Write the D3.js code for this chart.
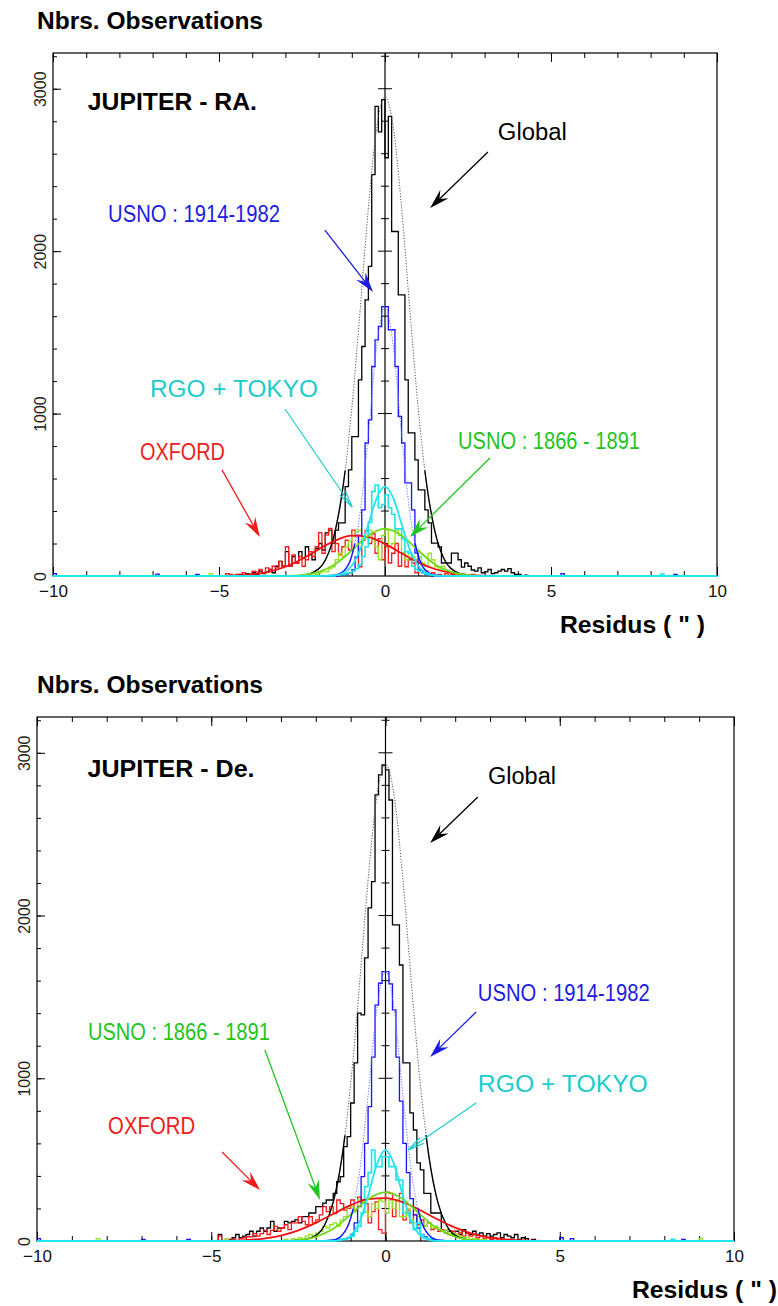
<!DOCTYPE html>
<html>
<head>
<meta charset="utf-8">
<script src="https://cdn.jsdelivr.net/npm/d3@7"></script>
<style>
  body { margin: 0; background: #fff; }
  svg { display: block; }
</style>
</head>
<body>
<script>
// histogram bins are 0.1" wide; each array starts at the residual given by its *Start
const binWidth = 0.1;
const yMax = 3220;
const xMajorTicks = [-10, -5, 0, 5, 10];
const xMinorTicks = d3.range(-10, 11, 1);
const yMajorTicks = [0, 1000, 2000, 3000];
const yMinorTicks = d3.range(0, 3201, 200);

// ---------- JUPITER - RA. ----------
const raGlobalStart = -4.5;
const raGlobal = [
  0,10,0,15,10, 20,10,30,15,25, 40,20,60,90,60, 150,60,120,80,150,
  110,180,130,100,170, 200,160,265,283,203, 283,327,327,550,653,
  858,858,1208,1413,1700, 1906,2471,2892,2734,2933,
  2575,2830,2121,2121,1731, 1731,1208,881,881,715, 530,530,407,327,203,
  203,179,80,80,80, 141,141,100,55,80, 60,37,30,50,20, 25,40,15,20,30,
  40,30,45,20,10, 10,0,5,0,0
];
const raUsnoNewStart = -1.5;   // USNO 1914-1982
const raUsnoNew = [
  0,5,8,12,20, 37,117,250,407,819, 961,1290,1454,1536,1659,
  1659,1516,1516,1290,982, 819,573,573,407,141, 37,25,10,5,0
];
const raRgoStart = -1.5;       // RGO + TOKYO
const raRgo = [
  5,8,10,15,20, 30,45,70,120,180, 330,520,560,420,440,
  500,420,380,290,290, 230,150,140,60,40, 30,20,12,8,5
];
const raUsnoOldStart = -2.5;   // USNO 1866-1891
const raUsnoOld = [
  5,0,10,15,10, 20,30,25,45,57, 100,141,120,180,216, 242,273,283,222,240,
  283,222,180,100,250, 283,180,200,283,250, 141,100,141,120,100,
  120,80,60,140,100, 57,40,60,30,20, 25,20,10,15,5
];
const raOxfordStart = -5.0;
const raOxford = [
  0,0,0,10,0, 10,0,20,10,0, 30,25,40,20,50, 40,60,50,90,60,
  180,60,130,80,120, 60,100,150,120,180, 267,140,252,293,150,
  200,130,180,220,160, 283,252,57,220,280, 200,260,140,230,100,
  180,80,140,200,60, 140,57,100,80,20, 40,20,30,10,20, 5,10,0,15,5,
  10,20,0,5,0, 0,10,0,0,0
];
const raOutliers = [
  {series: 'usnoNew', x: -10.0, n: 15}, {series: 'usnoNew', x: -6.9, n: 12},
  {series: 'usnoNew', x: -5.7, n: 10}, {series: 'usnoOld', x: -5.3, n: 15},
  {series: 'oxford', x: -4.8, n: 15}, {series: 'usnoNew', x: 5.3, n: 15},
  {series: 'rgo', x: 8.3, n: 12}, {series: 'usnoNew', x: 8.7, n: 10}
];

// ---------- JUPITER - De. ----------
const deGlobalStart = -4.5;
const deGlobal = [
  10,20,40,20,30, 40,60,30,60,80, 60,80,120,60,80, 80,120,111,120,130,
  111,150,150,172,172, 211,211,233,252,252, 293,364,395,580,641,
  848,1094,1400,1389,1740, 2047,2208,2741,2864,2925,
  2895,2710,1942,1942,1696, 1094,1094,787,682,480, 437,293,293,172,172,
  172,70,70,60,50, 60,40,70,50,40, 60,40,50,30,45, 30,40,50,20,40,
  30,20,40,10,20, 15,0,10,0,0
];
const deUsnoNewStart = -1.5;
const deUsnoNew = [
  0,5,10,15,20, 40,111,211,395,600, 826,1130,1450,1584,1655,
  1655,1580,1420,1130,860, 600,420,260,160,80, 40,25,15,8,0
];
const deRgoStart = -1.5;
const deRgo = [
  0,5,10,10,20, 30,60,90,172,334, 420,559,457,457,518,
  518,457,457,375,375, 172,172,120,70,111, 40,20,15,5,0
];
const deUsnoOldStart = -3.0;
const deUsnoOld = [
  0,10,0,15,10, 20,15,30,40,25, 50,60,90,80,100, 111,90,130,150,211,
  211,180,252,240,180, 150,230,200,252,240, 172,252,200,252,150,
  150,200,130,111,150, 111,90,111,80,90, 70,60,70,40,50, 40,30,20,25,10,
  15,10,5,10,0
];
const deOxfordStart = -4.5;
const deOxford = [
  5,10,0,15,20, 26,26,45,30,45, 65,40,65,90,60, 80,100,70,111,111,
  150,120,100,150,111, 130,160,211,180,211, 170,252,230,190,200,
  252,190,270,252,230, 111,180,240,70,49, 300,293,150,250,293,
  130,190,111,160,100, 130,90,111,70,80, 60,70,50,40,60, 40,50,30,45,30,
  40,20,30,15,20, 10,20,5,10,0, 10,0,5,0,0
];
const deOutliers = [
  {series: 'usnoNew', x: -10.0, n: 15}, {series: 'usnoOld', x: -8.3, n: 15},
  {series: 'usnoNew', x: -7.0, n: 10}, {series: 'usnoNew', x: -5.7, n: 10},
  {series: 'global', x: -4.8, n: 40}, {series: 'oxford', x: -4.8, n: 30},
  {series: 'usnoOld', x: -4.6, n: 15}, {series: 'usnoNew', x: 5.0, n: 20},
  {series: 'usnoNew', x: 5.3, n: 15}, {series: 'rgo', x: 8.2, n: 10},
  {series: 'usnoNew', x: 8.5, n: 10}, {series: 'usnoOld', x: 9.0, n: 15}
];

// ---------- fitted curves ----------
const fitXGlobal = [-10,-3,-2.5,-2,-1.75,-1.5,-1.25,-1,-0.75,-0.5,-0.25,0,0.25,0.5,0.75,1,1.25,1.5,1.75,2,2.5,3,10];
const fitXNarrow = [-10,-2,-1.5,-1.25,-1,-0.75,-0.5,-0.25,0,0.25,0.5,0.75,1,1.25,1.5,2,10];
const fitXMid = [-10,-3.5,-3,-2.5,-2,-1.5,-1,-0.5,0,0.5,1,1.5,2,2.5,3,3.5,10];
const fitXWide = [-10,-5,-4.5,-4,-3.5,-3,-2.5,-2,-1.5,-1,-0.5,0,0.5,1,1.5,2,2.5,3,3.5,4,4.5,10];

const raFitGlobal = [0,0,4,44,118,278,571,1032,1634,2269,2762,2950,2762,2269,1634,1032,571,278,118,44,4,0,0];
const raFitUsnoNew = [0,0,5,29,125,388,870,1413,1660,1413,870,388,125,29,5,0,0];
const raFitRgo = [0,0,4,19,63,162,320,480,550,480,320,162,63,19,4,0,0];
const raFitUsnoOld = [0,0,1,6,25,73,157,250,292,250,157,73,25,6,1,0,0];
const raFitOxford = [0,1,4,10,26,57,105,164,218,248,240,198,140,84,43,19,7,2,0,0,0,0];

const deFitGlobal = [0,0,3,34,97,239,514,962,1566,2218,2733,2930,2733,2218,1566,962,514,239,97,34,3,0,0];
const deFitUsnoNew = [0,0,6,35,140,414,895,1423,1660,1423,895,414,140,35,6,0,0];
const deFitRgo = [0,0,1,7,33,114,276,469,560,469,276,114,33,7,1,0,0];
const deFitUsnoOld = [0,0,1,6,26,75,162,257,300,257,162,75,26,6,1,0,0];
const deFitOxford = [0,1,2,6,15,33,65,111,166,220,257,263,238,189,132,82,44,21,9,3,1,0];

const colors = {
  global:  {hist: '#000000', fit: '#000000', dots: '#555555', text: '#000000'},
  usnoNew: {hist: '#1414ff', fit: '#1414ff', dots: '#7070ff', text: '#1c1ce0'},
  rgo:     {hist: '#1ee4ea', fit: '#22e6ee', dots: '#22e6ee', text: '#1ccccc'},
  usnoOld: {hist: '#94e41e', fit: '#70d81c', dots: '#70d81c', text: '#22c422'},
  oxford:  {hist: '#ff1a1a', fit: '#f01010', dots: '#f01010', text: '#ee1c1c'}
};

// annotations, in data coordinates (residual, count)
const raNotes = [
  {text: 'Global', key: 'global', x: 3.40, c: 2684, w: 69},
  {text: 'USNO : 1914-1982', key: 'usnoNew', x: -8.34, c: 2180, w: 172},
  {text: 'RGO + TOKYO', key: 'rgo', x: -7.08, c: 1102, w: 168},
  {text: 'OXFORD', key: 'oxford', x: -7.38, c: 714, w: 85},
  {text: 'USNO : 1866 - 1891', key: 'usnoOld', x: 2.20, c: 782, w: 182}
];
const raArrows = [
  {key: 'global', x1: 3.10, c1: 2610, x2: 1.36, c2: 2266},
  {key: 'usnoNew', x1: -1.81, c1: 2130, x2: -0.36, c2: 1749},
  {key: 'rgo', x1: -3.01, c1: 1028, x2: -0.99, c2: 425, open: true},
  {key: 'oxford', x1: -4.91, c1: 653, x2: -3.77, c2: 240},
  {key: 'usnoOld', x1: 3.16, c1: 727, x2: 0.75, c2: 240}
];
const deNotes = [
  {text: 'Global', key: 'global', x: 2.94, c: 2808, w: 68},
  {text: 'USNO : 1914-1982', key: 'usnoNew', x: 2.65, c: 1475, w: 172},
  {text: 'RGO + TOKYO', key: 'rgo', x: 2.65, c: 916, w: 170},
  {text: 'USNO : 1866 - 1891', key: 'usnoOld', x: -8.54, c: 1235, w: 182},
  {text: 'OXFORD', key: 'oxford', x: -7.96, c: 658, w: 87}
];
const deArrows = [
  {key: 'global', x1: 2.65, c1: 2728, x2: 1.28, c2: 2446},
  {key: 'usnoNew', x1: 2.60, c1: 1407, x2: 1.28, c2: 1131},
  {key: 'rgo', x1: 2.60, c1: 848, x2: 0.65, c2: 559, open: true},
  {key: 'usnoOld', x1: -3.46, c1: 1174, x2: -1.88, c2: 252},
  {key: 'oxford', x1: -4.69, c1: 547, x2: -3.60, c2: 313}
];

const FONT = '"Liberation Sans", Arial, Helvetica, sans-serif';

const svg = d3.select('body').append('svg')
  .attr('width', 778)
  .attr('height', 1306);

function histPoints(start, counts, extras, key) {
  const n = Math.round(20 / binWidth);
  const bins = new Array(n).fill(0);
  const i0 = Math.round((start + 10) / binWidth);
  counts.forEach((c, i) => { bins[i0 + i] = c; });
  extras.filter(e => e.series === key)
    .forEach(e => { bins[Math.min(n - 1, Math.round((e.x + 10) / binWidth))] = e.n; });
  const pts = bins.map((c, i) => ({x: -10 + i * binWidth, c: c}));
  pts.push({x: 10, c: 0});
  return pts;
}

function drawPanel(p) {
  const x = d3.scaleLinear().domain([-10, 10]).range([p.left, p.right]);
  const y = d3.scaleLinear().domain([0, yMax]).range([p.bottom, p.top]);
  const g = svg.append('g');

  // outer titles
  svg.append('text')
    .attr('x', p.left0).attr('y', p.top - 24)
    .attr('font-family', FONT).attr('font-weight', 'bold').attr('font-size', 23)
    .attr('textLength', 226).attr('lengthAdjust', 'spacingAndGlyphs')
    .text('Nbrs. Observations');
  svg.append('text')
    .attr('x', p.xTitleX).attr('y', p.bottom + 57)
    .attr('font-family', FONT).attr('font-weight', 'bold').attr('font-size', 23)
    .attr('textLength', 145).attr('lengthAdjust', 'spacingAndGlyphs')
    .text('Residus ( " )');

  // frame
  g.append('rect')
    .attr('x', p.left).attr('y', p.top)
    .attr('width', p.right - p.left).attr('height', p.bottom - p.top)
    .attr('fill', 'none').attr('stroke', '#000').attr('stroke-width', 1.2);

  // x axis: labels + ticks pointing inward
  const xa = g.append('g').attr('transform', `translate(0,${p.bottom})`)
    .call(d3.axisBottom(x).tickValues(xMajorTicks).tickSizeInner(-9).tickSizeOuter(0).tickPadding(9));
  xa.call(a => a.select('.domain').remove())
    .attr('font-family', FONT).attr('font-size', 17);
  xa.selectAll('text').attr('fill', '#111');
  g.append('g').attr('transform', `translate(0,${p.bottom})`)
    .call(d3.axisBottom(x).tickValues(xMinorTicks).tickSizeInner(-5).tickSizeOuter(0).tickFormat(() => ''))
    .call(a => a.select('.domain').remove());
  g.append('g').attr('transform', `translate(0,${p.top})`)
    .call(d3.axisTop(x).tickValues(xMajorTicks).tickSizeInner(-9).tickSizeOuter(0).tickFormat(() => ''))
    .call(a => a.select('.domain').remove());
  g.append('g').attr('transform', `translate(0,${p.top})`)
    .call(d3.axisTop(x).tickValues(xMinorTicks).tickSizeInner(-5).tickSizeOuter(0).tickFormat(() => ''))
    .call(a => a.select('.domain').remove());

  // y axis with rotated labels
  const ya = g.append('g').attr('transform', `translate(${p.left},0)`)
    .call(d3.axisLeft(y).tickValues(yMajorTicks).tickFormat(d3.format('d'))
      .tickSizeInner(-8).tickSizeOuter(0));
  ya.call(a => a.select('.domain').remove())
    .attr('font-family', FONT).attr('font-size', 16);
  ya.selectAll('text')
    .attr('transform', 'rotate(-90)')
    .attr('x', 0).attr('y', -7).attr('dy', 0)
    .attr('text-anchor', 'middle')
    .attr('fill', '#222');
  g.append('g').attr('transform', `translate(${p.left},0)`)
    .call(d3.axisLeft(y).tickValues(yMinorTicks).tickSizeInner(-4).tickSizeOuter(0).tickFormat(() => ''))
    .call(a => a.select('.domain').remove());

  // vertical zero line with its own ticks
  const x0 = x(0);
  g.append('line')
    .attr('x1', x0).attr('x2', x0).attr('y1', p.top).attr('y2', p.bottom)
    .attr('stroke', '#000').attr('stroke-width', 1.2);
  g.selectAll('.ztick').data(yMinorTicks.filter(v => v > 0)).join('line')
    .attr('class', 'ztick')
    .attr('x1', v => x0 - (v % 1000 === 0 ? 7 : 4))
    .attr('x2', v => x0 + (v % 1000 === 0 ? 7 : 4))
    .attr('y1', v => y(v)).attr('y2', v => y(v))
    .attr('stroke', '#000').attr('stroke-width', 1);

  // histograms
  const step = d3.line().x(d => x(d.x)).y(d => y(d.c)).curve(d3.curveStepAfter);
  p.hist.forEach(h => {
    g.append('path')
      .datum(histPoints(h.start, h.counts, p.outliers, h.key))
      .attr('fill', 'none')
      .attr('stroke', colors[h.key].hist)
      .attr('stroke-width', h.key === 'rgo' ? 1.6 : 1.3)
      .attr('stroke-linejoin', 'miter')
      .attr('d', step);
  });

  // fitted gaussians
  const smooth = d3.line().x(d => x(d.x)).y(d => y(d.c)).curve(d3.curveMonotoneX);
  const defs = svg.append('defs');
  p.fits.forEach((f, i) => {
    const pts = f.xs.map((v, j) => ({x: v, c: f.counts[j]}));
    const col = colors[f.key];
    if (f.solidBelow) {
      // thin dotted upper part, solid lower tails
      g.append('path').datum(pts)
        .attr('fill', 'none').attr('stroke', col.dots)
        .attr('stroke-width', 1).attr('stroke-dasharray', '1.2,1.6')
        .attr('d', smooth);
      const id = `clip-${p.id}-${i}`;
      defs.append('clipPath').attr('id', id).append('rect')
        .attr('x', p.left).attr('width', p.right - p.left)
        .attr('y', y(f.solidBelow)).attr('height', p.bottom - y(f.solidBelow) + 3);
      g.append('path').datum(pts)
        .attr('fill', 'none').attr('stroke', col.fit)
        .attr('stroke-width', 1.4)
        .attr('clip-path', `url(#${id})`)
        .attr('d', smooth);
    } else {
      g.append('path').datum(pts)
        .attr('fill', 'none').attr('stroke', col.fit)
        .attr('stroke-width', 1.8)
        .attr('d', smooth);
    }
  });

  // panel label
  g.append('text')
    .attr('x', x(p.label.x)).attr('y', y(p.label.c))
    .attr('font-family', FONT).attr('font-weight', 'bold').attr('font-size', 24)
    .attr('textLength', p.label.w).attr('lengthAdjust', 'spacingAndGlyphs')
    .text(p.label.text);

  // annotation texts
  g.selectAll('.note').data(p.notes).join('text')
    .attr('class', 'note')
    .attr('x', d => x(d.x)).attr('y', d => y(d.c))
    .attr('font-family', FONT).attr('font-size', 23)
    .attr('textLength', d => d.w).attr('lengthAdjust', 'spacingAndGlyphs')
    .attr('fill', d => colors[d.key].text)
    .text(d => d.text);

  // arrows
  p.arrows.forEach(a => {
    const sx = x(a.x1), sy = y(a.c1), tx = x(a.x2), ty = y(a.c2);
    const ang = Math.atan2(ty - sy, tx - sx);
    const col = colors[a.key].text;
    const head = 20, half = 6, notch = 13;
    if (a.open) {
      g.append('line')
        .attr('x1', sx).attr('y1', sy).attr('x2', tx).attr('y2', ty)
        .attr('stroke', col).attr('stroke-width', 1.2);
      [-0.2, 0.2].forEach(da => {
        g.append('line')
          .attr('x1', tx).attr('y1', ty)
          .attr('x2', tx - 17 * Math.cos(ang + da)).attr('y2', ty - 17 * Math.sin(ang + da))
          .attr('stroke', col).attr('stroke-width', 1.2);
      });
    } else {
      g.append('line')
        .attr('x1', sx).attr('y1', sy)
        .attr('x2', tx - notch * Math.cos(ang)).attr('y2', ty - notch * Math.sin(ang))
        .attr('stroke', col).attr('stroke-width', 1.3);
      g.append('path')
        .attr('d', `M0,0L${-head},${-half}L${-notch},0L${-head},${half}Z`)
        .attr('transform', `translate(${tx},${ty}) rotate(${ang * 180 / Math.PI})`)
        .attr('fill', col);
    }
  });
}

drawPanel({
  id: 'ra', left: 53, right: 717, top: 53, bottom: 576, left0: 37, xTitleX: 560,
  label: {text: 'JUPITER - RA.', x: -8.95, c: 2869, w: 169},
  outliers: raOutliers,
  hist: [
    {key: 'global', start: raGlobalStart, counts: raGlobal},
    {key: 'oxford', start: raOxfordStart, counts: raOxford},
    {key: 'usnoOld', start: raUsnoOldStart, counts: raUsnoOld},
    {key: 'usnoNew', start: raUsnoNewStart, counts: raUsnoNew},
    {key: 'rgo', start: raRgoStart, counts: raRgo}
  ],
  fits: [
    {key: 'global', xs: fitXGlobal, counts: raFitGlobal, solidBelow: 650},
    {key: 'oxford', xs: fitXWide, counts: raFitOxford},
    {key: 'usnoOld', xs: fitXMid, counts: raFitUsnoOld},
    {key: 'usnoNew', xs: fitXNarrow, counts: raFitUsnoNew, solidBelow: 200},
    {key: 'rgo', xs: fitXNarrow, counts: raFitRgo}
  ],
  notes: raNotes, arrows: raArrows
});

drawPanel({
  id: 'de', left: 37, right: 734, top: 717, bottom: 1241, left0: 37, xTitleX: 632,
  label: {text: 'JUPITER - De.', x: -8.55, c: 2851, w: 167},
  outliers: deOutliers,
  hist: [
    {key: 'global', start: deGlobalStart, counts: deGlobal},
    {key: 'oxford', start: deOxfordStart, counts: deOxford},
    {key: 'usnoOld', start: deUsnoOldStart, counts: deUsnoOld},
    {key: 'usnoNew', start: deUsnoNewStart, counts: deUsnoNew},
    {key: 'rgo', start: deRgoStart, counts: deRgo}
  ],
  fits: [
    {key: 'global', xs: fitXGlobal, counts: deFitGlobal, solidBelow: 650},
    {key: 'oxford', xs: fitXWide, counts: deFitOxford},
    {key: 'usnoOld', xs: fitXMid, counts: deFitUsnoOld},
    {key: 'usnoNew', xs: fitXNarrow, counts: deFitUsnoNew, solidBelow: 200},
    {key: 'rgo', xs: fitXNarrow, counts: deFitRgo}
  ],
  notes: deNotes, arrows: deArrows
});
</script>
</body>
</html>
